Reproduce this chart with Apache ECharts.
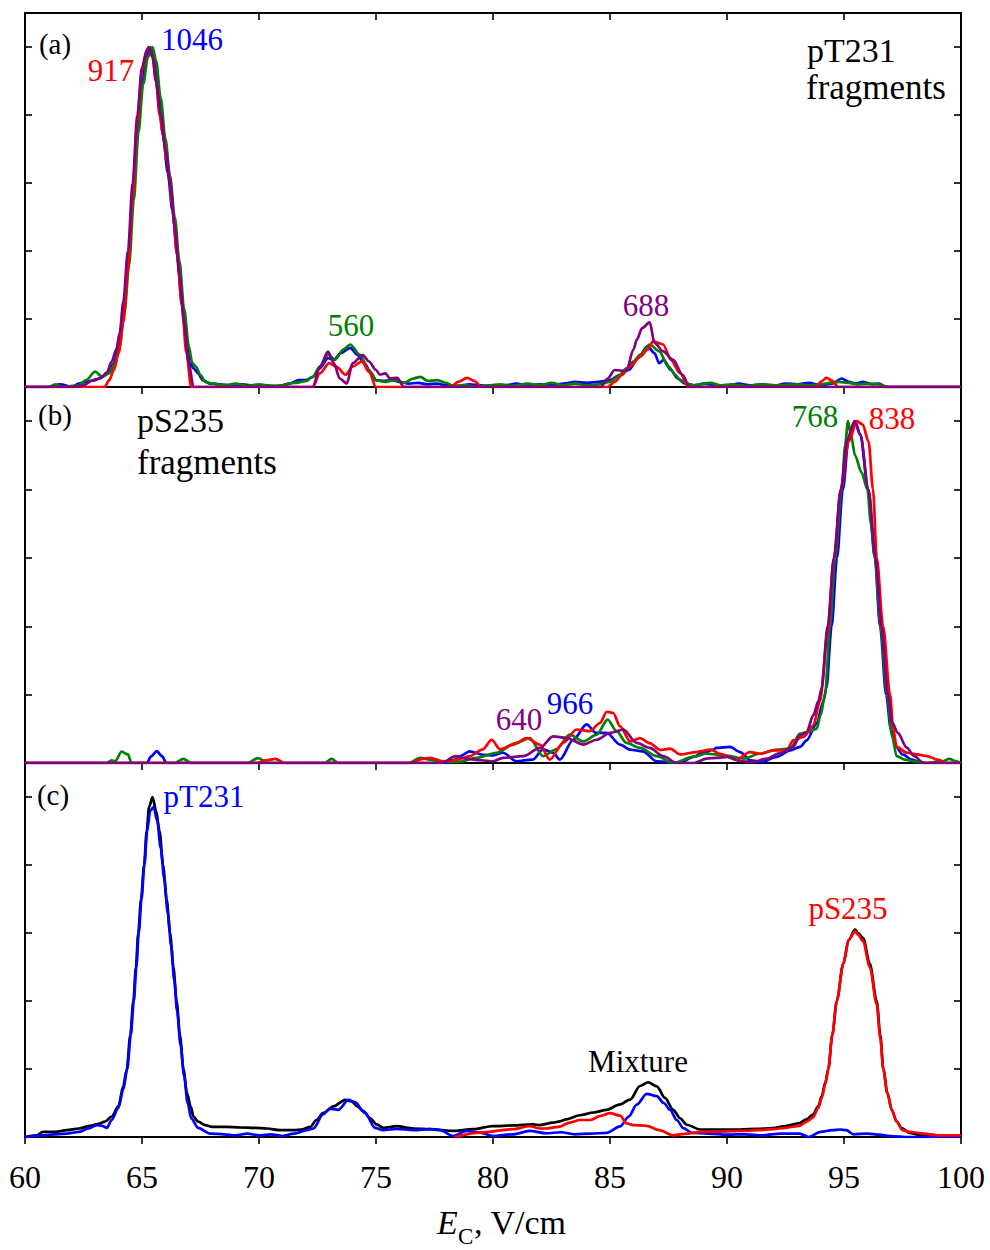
<!DOCTYPE html>
<html><head><meta charset="utf-8">
<script src="https://cdn.jsdelivr.net/npm/echarts@6/dist/echarts.min.js"></script>
<style>html,body{margin:0;padding:0;background:#fff}#c{width:990px;height:1250px}</style>
</head><body><div id="c"></div>
<script>
// ---- axis settings ----
const xMin = 60, xMax = 100, xStep = 5;
const yMin = 0, yMax = 1.1, yStep = 0.2;

// ---- panel (a): pT231 fragments ----
const aBlue = [[60,0],[61.0,0.0],[61.5,0.008],[62.0,0.0],[62.3,0.01],[62.6,0.015],[63.0,0.02],[63.3,0.03],[63.6,0.045],[63.8,0.07],[64.0,0.12],[64.2,0.22],[64.4,0.36],[64.6,0.55],[64.8,0.75],[65.0,0.89],[65.2,0.97],[65.35,1.0],[65.5,0.97],[65.7,0.86],[65.9,0.74],[66.1,0.63],[66.3,0.52],[66.5,0.39],[66.7,0.25],[66.9,0.13],[67.05,0.07],[67.2,0.055],[67.4,0.04],[67.6,0.02],[67.9,0.01],[68.3,0.008],[68.8,0.005],[69.3,0.008],[69.8,0.003],[70.3,0.005],[70.8,0.002],[71.3,0.01],[71.7,0.02],[72.0,0.02],[72.3,0.03],[72.6,0.055],[72.95,0.085],[73.2,0.08],[73.5,0.1],[73.9,0.115],[74.2,0.095],[74.5,0.07],[74.8,0.04],[75.0,0.02],[75.3,0.018],[75.7,0.02],[76.0,0.015],[76.4,0.01],[76.8,0.012],[77.2,0.008],[77.6,0.01],[78.0,0.005],[78.5,0.003],[79.0,0.008],[79.5,0.005],[80.0,0.0],[80.5,0.005],[81.0,0.01],[81.5,0.005],[82.0,0.008],[82.5,0.005],[83.0,0.01],[83.5,0.015],[84.0,0.012],[84.5,0.015],[85.0,0.02],[85.4,0.035],[85.8,0.05],[86.2,0.085],[86.6,0.12],[86.9,0.1],[87.1,0.07],[87.3,0.08],[87.6,0.05],[87.9,0.025],[88.2,0.01],[88.6,0.005],[89.0,0.01],[89.5,0.005],[90.0,0.003],[90.5,0.01],[91.0,0.005],[91.5,0.008],[92.0,0.003],[92.5,0.01],[93.0,0.008],[93.5,0.012],[94.0,0.005],[94.5,0.01],[94.9,0.025],[95.2,0.015],[95.5,0.01],[95.8,0.015],[96.2,0.008],[96.5,0.01],[96.8,0.0],[100,0]];
const aGreen = [[60,0],[61.0,0.0],[61.3,0.008],[61.6,0.0],[62.3,0.005],[62.6,0.02],[63.0,0.045],[63.3,0.03],[63.6,0.04],[63.85,0.07],[64.05,0.12],[64.25,0.22],[64.45,0.36],[64.65,0.55],[64.85,0.75],[65.05,0.89],[65.25,0.97],[65.45,1.0],[65.6,0.96],[65.8,0.85],[66.0,0.73],[66.2,0.62],[66.4,0.5],[66.6,0.37],[66.8,0.23],[67.0,0.12],[67.15,0.07],[67.3,0.06],[67.5,0.035],[67.7,0.015],[68.0,0.01],[68.5,0.005],[69.0,0.01],[69.5,0.003],[70.0,0.008],[70.5,0.003],[71.0,0.005],[71.5,0.012],[72.0,0.017],[72.3,0.03],[72.6,0.06],[72.95,0.095],[73.25,0.08],[73.6,0.11],[73.9,0.125],[74.3,0.095],[74.7,0.05],[75.0,0.02],[75.4,0.015],[75.8,0.02],[76.2,0.012],[76.6,0.025],[76.9,0.03],[77.2,0.018],[77.6,0.02],[78.0,0.012],[78.3,0.003],[78.8,0.005],[79.3,0.0],[79.8,0.005],[80.3,0.008],[80.8,0.003],[81.5,0.01],[82.0,0.005],[82.5,0.012],[83.0,0.005],[83.5,0.01],[84.0,0.005],[84.5,0.008],[85.0,0.015],[85.4,0.035],[85.7,0.055],[86.0,0.075],[86.3,0.095],[86.7,0.125],[87.1,0.105],[87.5,0.06],[87.8,0.035],[88.0,0.02],[88.3,0.01],[88.6,0.005],[89.3,0.012],[89.7,0.005],[90.2,0.008],[90.8,0.003],[91.5,0.008],[92.2,0.005],[93.0,0.008],[93.5,0.005],[94.0,0.008],[94.4,0.012],[94.8,0.015],[95.2,0.012],[95.6,0.008],[96.0,0.01],[96.5,0.008],[96.9,0.0],[100,0]];
const aRed = [[60,0],[63.4,0],[63.6,0.02],[63.8,0.05],[64.0,0.1],[64.2,0.19],[64.4,0.34],[64.6,0.56],[64.8,0.78],[65.0,0.93],[65.2,0.99],[65.3,1.0],[65.45,0.97],[65.6,0.9],[65.75,0.8],[65.9,0.74],[66.05,0.67],[66.15,0.63],[66.3,0.53],[66.5,0.39],[66.7,0.24],[66.9,0.1],[67.1,0.0],[72.3,0.0],[72.6,0.04],[73.0,0.07],[73.3,0.06],[73.7,0.036],[74.0,0.06],[74.4,0.075],[74.7,0.045],[75.0,0.0],[78.2,0.0],[78.5,0.015],[78.9,0.027],[79.2,0.018],[79.5,0.0],[84.9,0.0],[85.2,0.015],[85.5,0.035],[85.85,0.06],[86.3,0.09],[86.6,0.11],[86.85,0.135],[87.05,0.13],[87.27,0.125],[87.6,0.08],[88.0,0.04],[88.35,0.0],[93.8,0.0],[94.0,0.015],[94.26,0.027],[94.5,0.018],[94.75,0.0],[100,0]];
const aPurple = [[60,0],[62.0,0.0],[62.5,0.005],[62.9,0.02],[63.2,0.025],[63.5,0.042],[63.7,0.075],[63.9,0.11],[64.05,0.16],[64.2,0.25],[64.4,0.4],[64.6,0.6],[64.8,0.8],[65.0,0.94],[65.2,0.99],[65.3,1.0],[65.45,0.97],[65.6,0.9],[65.8,0.8],[66.0,0.7],[66.2,0.6],[66.4,0.47],[66.6,0.33],[66.8,0.19],[67.0,0.07],[67.2,0.0],[72.3,0.0],[72.6,0.06],[72.95,0.104],[73.2,0.07],[73.45,0.025],[73.75,0.01],[74.0,0.07],[74.44,0.094],[74.7,0.075],[75.0,0.05],[75.17,0.036],[75.4,0.04],[75.6,0.025],[75.9,0.027],[76.2,0.0],[84.6,0.0],[84.9,0.025],[85.2,0.05],[85.7,0.047],[86.0,0.11],[86.15,0.14],[86.37,0.173],[86.7,0.19],[86.9,0.13],[87.27,0.105],[87.7,0.08],[88.1,0.036],[88.4,0.0],[100,0]];

// ---- panel (b): pS235 fragments ----
const bRed = [[60,0],[69.9,0],[70.3,0.008],[70.7,0.012],[71.1,0.0],[76.5,0.0],[77.0,0.012],[77.3,0.015],[77.86,0.005],[78.5,0.01],[79.0,0.02],[79.57,0.04],[79.94,0.068],[80.3,0.04],[80.86,0.054],[81.44,0.073],[82.0,0.054],[82.43,0.01],[83.0,0.059],[83.57,0.098],[84.14,0.093],[84.57,0.117],[84.86,0.15],[85.14,0.146],[85.43,0.107],[85.86,0.063],[86.28,0.073],[86.7,0.058],[87.14,0.038],[87.57,0.042],[88.0,0.025],[88.7,0.032],[89.3,0.039],[89.7,0.027],[90.41,0.01],[90.98,0.032],[91.4,0.027],[91.98,0.037],[92.55,0.037],[92.83,0.066],[93.26,0.076],[93.69,0.11],[93.97,0.18],[94.3,0.38],[94.57,0.6],[94.86,0.8],[95.2,0.94],[95.55,1.0],[95.8,0.99],[96.05,0.94],[96.24,0.8],[96.4,0.6],[96.67,0.4],[96.97,0.2],[97.1,0.1],[97.25,0.047],[97.7,0.03],[98.1,0.025],[98.55,0.02],[99.0,0.01],[99.4,0.0],[100,0]];
const bBlue = [[60,0],[65.2,0],[65.4,0.02],[65.63,0.035],[65.85,0.02],[66.05,0.0],[78.15,0.0],[78.6,0.02],[79.0,0.034],[79.57,0.024],[80.0,0.022],[80.43,0.03],[81.0,0.005],[81.7,0.01],[82.14,0.04],[82.57,0.03],[82.86,0.01],[83.43,0.068],[84.0,0.113],[84.4,0.088],[84.86,0.088],[85.43,0.054],[85.86,0.039],[86.4,0.034],[87.0,0.005],[88.0,0.0],[88.56,0.018],[89.0,0.03],[89.42,0.039],[89.54,0.044],[90.13,0.047],[90.56,0.032],[91.0,0.008],[91.5,0.003],[92.12,0.018],[92.7,0.037],[93.12,0.047],[93.4,0.066],[93.83,0.115],[94.12,0.18],[94.25,0.22],[94.47,0.4],[94.7,0.6],[94.95,0.8],[95.2,0.95],[95.47,1.0],[95.7,0.96],[96.03,0.8],[96.32,0.6],[96.54,0.4],[96.8,0.2],[97.0,0.1],[97.2,0.05],[97.5,0.025],[97.9,0.01],[98.3,0.0],[100,0]];
const bGreen = [[60,0],[63.5,0],[63.7,0.008],[63.85,0.005],[64.13,0.033],[64.4,0.025],[64.55,0.0],[66.4,0.0],[66.77,0.012],[67.1,0.0],[69.5,0.0],[69.96,0.014],[70.4,0.0],[72.8,0.0],[73.1,0.012],[73.4,0.0],[76.4,0.0],[76.9,0.015],[77.3,0.01],[77.7,0.005],[78.5,0.003],[79.3,0.015],[80.14,0.03],[81.0,0.059],[81.57,0.073],[82.14,0.02],[82.7,0.04],[83.28,0.083],[83.86,0.063],[84.43,0.083],[84.9,0.127],[85.28,0.093],[85.7,0.059],[86.28,0.044],[87.0,0.02],[87.7,0.0],[88.56,0.018],[89.13,0.027],[90.0,0.022],[90.7,0.013],[91.4,0.027],[92.12,0.039],[92.7,0.042],[93.12,0.086],[93.4,0.09],[93.83,0.1],[94.0,0.14],[94.19,0.2],[94.4,0.4],[94.62,0.6],[94.9,0.8],[95.05,0.93],[95.17,1.0],[95.3,0.96],[95.47,0.9],[95.75,0.85],[96.0,0.8],[96.15,0.7],[96.32,0.6],[96.56,0.4],[96.84,0.2],[97.05,0.08],[97.25,0.02],[97.6,0.01],[98.0,0.005],[98.5,0.0],[99.2,0.005],[99.5,0.012],[99.8,0.005],[100,0]];
const bPurple = [[60,0],[77.8,0.0],[78.4,0.02],[78.9,0.012],[79.5,0.008],[80.0,0.005],[80.43,0.015],[81.29,0.02],[82.0,0.044],[82.57,0.078],[83.14,0.073],[83.86,0.054],[84.43,0.068],[85.0,0.088],[85.57,0.098],[86.14,0.059],[86.7,0.044],[87.27,0.02],[87.86,0.0],[88.6,0.0],[89.13,0.013],[89.56,0.015],[90.0,0.018],[90.6,0.005],[91.13,0.003],[91.7,0.013],[92.26,0.029],[92.83,0.047],[93.12,0.08],[93.4,0.09],[93.69,0.14],[93.9,0.18],[94.05,0.22],[94.3,0.4],[94.57,0.6],[94.86,0.8],[95.15,0.95],[95.45,1.0],[95.7,0.96],[96.05,0.8],[96.35,0.6],[96.6,0.4],[96.88,0.2],[97.05,0.12],[97.3,0.088],[97.68,0.045],[98.0,0.02],[98.4,0.0],[100,0]];

// ---- panel (c): mixture vs. pure ----
const cBlack = [[60,0],[60.5,0.005],[60.77,0.015],[61.3,0.015],[61.78,0.02],[62.3,0.025],[62.78,0.033],[63.1,0.038],[63.42,0.045],[63.7,0.06],[63.99,0.09],[64.2,0.15],[64.35,0.2],[64.5,0.3],[64.63,0.4],[64.74,0.5],[64.84,0.6],[64.96,0.7],[65.09,0.8],[65.2,0.9],[65.3,0.97],[65.45,1.0],[65.6,0.96],[65.75,0.9],[65.9,0.8],[66.05,0.7],[66.2,0.6],[66.34,0.5],[66.48,0.4],[66.62,0.3],[66.77,0.2],[66.92,0.13],[67.08,0.09],[67.2,0.06],[67.4,0.045],[67.7,0.035],[68.0,0.03],[68.6,0.03],[69.2,0.028],[69.8,0.027],[70.33,0.025],[70.9,0.02],[71.5,0.02],[71.8,0.022],[72.2,0.03],[72.45,0.05],[72.75,0.071],[73.18,0.09],[73.68,0.109],[73.96,0.105],[74.2,0.09],[74.46,0.076],[74.75,0.055],[75.03,0.037],[75.31,0.027],[75.88,0.032],[76.6,0.025],[77.3,0.023],[78.3,0.018],[79.15,0.023],[80.0,0.032],[80.86,0.034],[81.71,0.037],[82.0,0.035],[82.57,0.042],[82.86,0.046],[83.14,0.052],[83.71,0.064],[84.3,0.072],[84.86,0.08],[85.4,0.095],[85.86,0.11],[86.28,0.15],[86.63,0.161],[87.0,0.149],[87.35,0.115],[87.7,0.08],[88.0,0.055],[88.28,0.036],[88.85,0.022],[89.7,0.022],[90.56,0.022],[91.3,0.024],[91.97,0.026],[92.5,0.032],[93.1,0.041],[93.4,0.052],[93.67,0.066],[93.9,0.09],[94.05,0.12],[94.2,0.16],[94.33,0.2],[94.5,0.3],[94.69,0.4],[94.97,0.51],[95.2,0.58],[95.47,0.61],[95.6,0.6],[95.82,0.585],[96.1,0.51],[96.4,0.4],[96.55,0.3],[96.68,0.2],[96.85,0.13],[97.04,0.08],[97.25,0.045],[97.47,0.026],[97.8,0.012],[98.25,0.006],[99.0,0.003],[100,0.002]];
const cBlue = [[60,0],[60.77,0.005],[61.78,0.01],[62.3,0.015],[62.7,0.025],[63.06,0.035],[63.3,0.033],[63.5,0.027],[63.7,0.05],[63.99,0.085],[64.2,0.14],[64.37,0.2],[64.52,0.3],[64.65,0.4],[64.76,0.5],[64.86,0.6],[64.98,0.7],[65.1,0.8],[65.22,0.9],[65.35,0.96],[65.5,0.97],[65.65,0.93],[65.8,0.85],[65.95,0.76],[66.1,0.66],[66.25,0.56],[66.38,0.46],[66.5,0.37],[66.65,0.27],[66.8,0.18],[66.95,0.1],[67.1,0.055],[67.4,0.027],[67.9,0.01],[68.5,0.008],[69.0,0.005],[69.5,0.01],[70.0,0.005],[70.5,0.008],[71.0,0.003],[71.5,0.01],[72.04,0.02],[72.32,0.025],[72.75,0.067],[73.03,0.083],[73.39,0.08],[73.82,0.109],[74.1,0.103],[74.53,0.071],[74.96,0.027],[75.3,0.02],[75.88,0.024],[76.6,0.02],[77.3,0.023],[77.74,0.02],[78.3,0.003],[78.87,0.018],[79.44,0.013],[80.0,0.003],[80.86,0.008],[81.57,0.018],[82.28,0.011],[82.9,0.014],[83.5,0.008],[84.2,0.01],[84.86,0.012],[85.43,0.031],[85.8,0.06],[86.14,0.095],[86.57,0.127],[87.0,0.12],[87.3,0.1],[87.57,0.08],[87.85,0.05],[88.14,0.026],[88.5,0.012],[89.2,0.01],[90.0,0.007],[90.8,0.008],[91.5,0.005],[92.3,0.01],[93.1,0.01],[93.5,0.0],[94.0,0.015],[94.5,0.02],[94.83,0.022],[95.1,0.02],[95.4,0.008],[96.0,0.01],[96.5,0.007],[96.97,0.003],[97.8,0.0],[100,0]];
const cRed = [[78.37,0.0],[79.44,0.013],[80.86,0.023],[81.57,0.032],[82.0,0.025],[82.28,0.025],[82.8,0.03],[83.28,0.042],[83.71,0.05],[84.14,0.05],[84.6,0.062],[85.0,0.07],[85.43,0.063],[85.71,0.04],[86.0,0.035],[86.57,0.033],[87.1,0.02],[87.7,0.005],[88.3,0.01],[88.85,0.015],[89.7,0.016],[90.56,0.018],[91.3,0.02],[91.97,0.023],[92.5,0.027],[93.1,0.033],[93.4,0.045],[93.67,0.057],[93.9,0.085],[94.05,0.115],[94.2,0.155],[94.33,0.2],[94.5,0.3],[94.69,0.4],[94.97,0.51],[95.2,0.58],[95.47,0.605],[95.6,0.595],[95.82,0.575],[96.1,0.5],[96.4,0.39],[96.55,0.29],[96.68,0.2],[96.85,0.13],[97.04,0.08],[97.25,0.045],[97.5,0.02],[97.8,0.015],[98.4,0.01],[99.0,0.005],[100,0.005]];

// ---- text ----
const annotations = [
  {t:'(a)', x:55, y:44, c:'#000', s:29},
  {t:'917', x:111, y:70, c:'#ff0000', s:31},
  {t:'1046', x:192, y:39, c:'#0000ff', s:31},
  {t:'560', x:351, y:325, c:'#008000', s:31},
  {t:'688', x:646, y:305, c:'#800080', s:31},
  {t:'(b)', x:55, y:415, c:'#000', s:29},
  {t:'768', x:815, y:416, c:'#008000', s:31},
  {t:'838', x:892, y:418, c:'#ff0000', s:31},
  {t:'640', x:519, y:719, c:'#800080', s:31},
  {t:'966', x:570, y:703, c:'#0000ff', s:31},
  {t:'(c)', x:53, y:795, c:'#000', s:29},
  {t:'pT231', x:204, y:796, c:'#0000ff', s:31},
  {t:'pS235', x:848, y:908, c:'#ff0000', s:31},
  {t:'Mixture', x:638, y:1061, c:'#000', s:31}
];
const leftTexts = [
  {t:'pT231', x:807, y:50, s:34},
  {t:'fragments', x:806, y:87, s:35},
  {t:'pS235', x:137, y:420, s:34},
  {t:'fragments', x:137, y:462, s:35}
];

const FONT = 'Liberation Serif, Times New Roman, serif';
const chart = echarts.init(document.getElementById('c'), null, {renderer:'svg'});

const gridBox = [
  {left:25, right:29, top:13, height:374},
  {left:25, right:29, top:387, height:376},
  {left:25, right:29, top:763, height:374}
];
const axLine = {show:true, onZero:false, lineStyle:{color:'#000', width:2}};
function xAx(grid, pos, showLabel, tickInside) {
  return {type:'value', gridIndex:grid, position:pos, min:xMin, max:xMax, interval:xStep,
    axisLine:axLine, splitLine:{show:false},
    axisTick:{show:true, inside:tickInside, length:7, lineStyle:{color:'#000', width:1.6}},
    axisLabel:{show:showLabel, color:'#000', fontFamily:FONT, fontSize:32, margin:24}};
}
function yAx(grid, pos) {
  return {type:'value', gridIndex:grid, position:pos, min:yMin, max:yMax, interval:yStep,
    axisLine:axLine, splitLine:{show:false},
    axisTick:{show:true, inside:true, length:7, lineStyle:{color:'#000', width:1.6}},
    axisLabel:{show:false}};
}
function ser(data, color, xi, yi, z) {
  return {type:'line', data:data, xAxisIndex:xi, yAxisIndex:yi, showSymbol:false, symbol:'none',
    smooth:0.3, smoothMonotone:'x', z:z, lineStyle:{color:color, width:2.7}, silent:true};
}
const graphics = [];
annotations.forEach(a => graphics.push({type:'text', x:a.x, y:a.y, z:100,
  style:{text:a.t, fill:a.c, fontFamily:FONT, fontSize:a.s, textAlign:'center', textVerticalAlign:'middle'}}));
leftTexts.forEach(a => graphics.push({type:'text', x:a.x, y:a.y, z:100,
  style:{text:a.t, fill:'#000', fontFamily:FONT, fontSize:a.s, textAlign:'left', textVerticalAlign:'middle'}}));
// axis title  E_C, V/cm
graphics.push({type:'text', x:437, y:1222, style:{text:'E', fill:'#000', fontFamily:FONT, fontStyle:'italic', fontSize:34, textAlign:'left', textVerticalAlign:'middle'}});
graphics.push({type:'text', x:458, y:1236, style:{text:'C', fill:'#000', fontFamily:FONT, fontSize:23, textAlign:'left', textVerticalAlign:'middle'}});
graphics.push({type:'text', x:474, y:1222, style:{text:', V/cm', fill:'#000', fontFamily:FONT, fontSize:34, textAlign:'left', textVerticalAlign:'middle'}});

chart.setOption({
  animation:false,
  backgroundColor:'#fff',
  grid: gridBox,
  xAxis:[
    xAx(0,'bottom',false,false),
    xAx(0,'top',false,true),
    xAx(1,'bottom',false,false),
    xAx(2,'bottom',true,false)
  ],
  yAxis:[yAx(0,'left'),yAx(0,'right'),yAx(1,'left'),yAx(1,'right'),yAx(2,'left'),yAx(2,'right')],
  series:[
    ser(aBlue,'#0000ff',0,0,2), ser(aGreen,'#008000',0,0,3), ser(aRed,'#ff0000',0,0,4), ser(aPurple,'#800080',0,0,5),
    ser(bBlue,'#0000ff',2,2,2), ser(bGreen,'#008000',2,2,3), ser(bRed,'#ff0000',2,2,4), ser(bPurple,'#800080',2,2,5),
    ser(cBlack,'#000000',3,4,2), ser(cBlue,'#0000ff',3,4,3), ser(cRed,'#ff0000',3,4,4)
  ],
  graphic: graphics
});
</script></body></html>
